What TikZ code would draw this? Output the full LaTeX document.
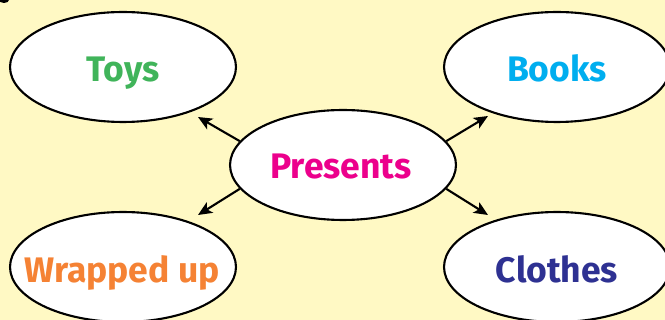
\documentclass[tikz,border=0pt]{standalone}
\usepackage{fontspec}
\setmainfont{Fira Sans}
\usetikzlibrary{shapes.geometric,arrows.meta}
\definecolor{bg}{RGB}{255,249,196}
\definecolor{cgreen}{RGB}{64,180,90}
\definecolor{ccyan}{RGB}{0,174,239}
\definecolor{cmag}{RGB}{236,0,140}
\definecolor{corange}{RGB}{245,130,52}
\definecolor{cnavy}{RGB}{46,49,146}
\tikzset{
  bubble/.style={ellipse, draw=black, line width=1.2pt, fill=white, minimum width=4.52cm, minimum height=2.2cm, inner sep=0pt},
  word/.style={anchor=base, inner sep=0pt, font=\fontsize{20.2}{24}\selectfont\bfseries},
  link/.style={draw=black, line width=1.2pt, -{Stealth[length=8pt,width=7pt,inset=2pt]}}
}
\begin{document}
\begin{tikzpicture}[x=0.02cm,y=-0.02cm]
\fill[bg] (0,0) rectangle (665,320);
\useasboundingbox (0,0) rectangle (665,320);
\fill[black] (4,0) ellipse [x radius=5, y radius=3];
\node[bubble] (toys) at (123,67) {};
\node[bubble] (books) at (557,67) {};
\node[bubble] (pres) at (343,165) {};
\node[bubble] (wrap) at (123,267) {};
\node[bubble] (clothes) at (557,267) {};
\node[word, text=cgreen] (toysT) at (123,82) {Toys};
\node[word, text=ccyan] (booksT) at (557,82) {Books};
\node[word, text=cmag] (presT) at (341,179) {Presents};
\node[word, text=corange] (wrapT) at (122,282) {Wrapped up};
\node[word, text=cnavy] (clothesT) at (557,282) {Clothes};
\coordinate (tToys) at (198,117);
\coordinate (tBooks) at (488,116);
\coordinate (tWrap) at (198,215);
\coordinate (tClothes) at (488,215);
\draw[link] (pres.167) -- (tToys);
\draw[link] (pres.13) -- (tBooks);
\draw[link] (pres.193) -- (tWrap);
\draw[link] (pres.-13) -- (tClothes);
\end{tikzpicture}
\end{document}
